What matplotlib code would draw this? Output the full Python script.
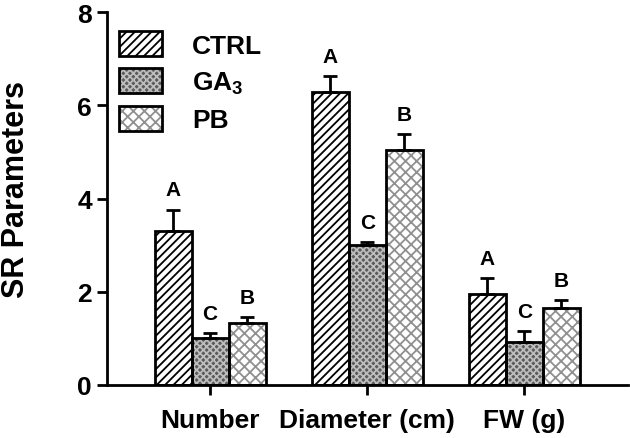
import numpy as np
import matplotlib
matplotlib.use('Agg')
import matplotlib.pyplot as plt
from matplotlib.patches import Patch

plt.rcParams['font.family'] = 'Liberation Sans'
plt.rcParams['font.weight'] = 'bold'
plt.rcParams['mathtext.fontset'] = 'custom'
plt.rcParams['mathtext.rm'] = 'Liberation Sans:bold'
plt.rcParams['mathtext.bf'] = 'Liberation Sans:bold'
plt.rcParams['mathtext.default'] = 'bf'
plt.rcParams['hatch.linewidth'] = 1.3

# Data
categories = ['Number', 'Diameter (cm)', 'FW (g)']
groups = ['CTRL', 'GA$_3$', 'PB']
ctrl = [3.30, 6.28, 1.95]
ga3 = [1.00, 3.00, 0.92]
pb = [1.33, 5.05, 1.65]
ctrl_err = [0.46, 0.35, 0.34]
ga3_err = [0.11, 0.06, 0.24]
pb_err = [0.12, 0.33, 0.17]
ctrl_lbl = ['A', 'A', 'A']
ga3_lbl = ['C', 'C', 'C']
pb_lbl = ['B', 'B', 'B']

series = [
    (ctrl, ctrl_err, ctrl_lbl, dict(facecolor='white', hatch='////', hcol='black')),
    (ga3, ga3_err, ga3_lbl, dict(facecolor='#5a5a5a', hatch='xxxxx', hcol='#bdbdbd')),
    (pb, pb_err, pb_lbl, dict(facecolor='white', hatch='xxx', hcol='#909090')),
]

fig = plt.figure(figsize=(6.3, 4.39), dpi=100)
ax = fig.add_axes([0.170, 0.121, 0.827, 0.849])

x = np.arange(len(categories))
w = 0.236
for i, (vals, errs, lbls, st) in enumerate(series):
    pos = x + (i - 1) * w
    ax.bar(pos, vals, w, color=st['facecolor'], hatch=st['hatch'],
           edgecolor=st['hcol'], linewidth=0, zorder=2)
    ax.bar(pos, vals, w, fill=False, edgecolor='black', linewidth=2, zorder=3)
    ax.errorbar(pos, vals, yerr=[np.zeros(len(vals)), errs], fmt='none',
                ecolor='black', elinewidth=2, capsize=5, capthick=2, zorder=4)
    for p, v, e, l in zip(pos, vals, errs, lbls):
        ax.text(p, v + e + 0.22, l, ha='center', va='bottom',
                fontsize=15, fontweight='bold')

ax.set_xlim(-0.656, 2.66)
ax.set_ylim(0, 8)
ax.set_yticks([0, 2, 4, 6, 8])
ax.set_xticks(x)
ax.set_xticklabels(categories, fontsize=19, fontweight='bold')
ax.tick_params(axis='y', labelsize=19, width=2, length=7, direction='out', pad=4)
ax.tick_params(axis='x', width=2, length=7, direction='out', pad=10)
for s in ['top', 'right']:
    ax.spines[s].set_visible(False)
for s in ['left', 'bottom']:
    ax.spines[s].set_linewidth(2)
ax.set_ylabel('SR Parameters', fontsize=22, fontweight='bold')
ax.yaxis.set_label_coords(-0.146, 0.527)

handles = []
for vals, errs, lbls, st in series:
    handles.append((Patch(facecolor=st['facecolor'], hatch=st['hatch'],
                          edgecolor=st['hcol'], linewidth=0),
                    Patch(fill=False, edgecolor='black', linewidth=2)))
leg = ax.legend(handles, groups, loc='upper left', bbox_to_anchor=(-0.023, 1.012),
                frameon=False, fontsize=19, handlelength=1.63, handleheight=1.05,
                handletextpad=1.15, labelspacing=0.4)

fig.savefig('out.png', dpi=100)
